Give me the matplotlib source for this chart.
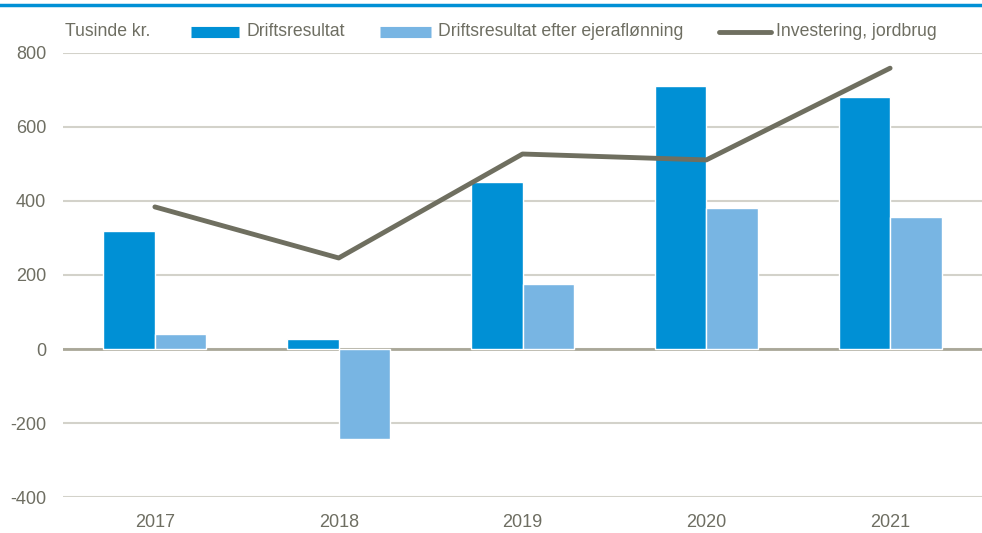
import numpy as np
import matplotlib
matplotlib.use("Agg")
import matplotlib.pyplot as plt
from matplotlib.lines import Line2D

years = ["2017", "2018", "2019", "2020", "2021"]
driftsresultat = [320, 27, 451, 711, 681]
efter_ejerafl = [40, -243, 176, 381, 357]
investering = [384, 246, 527, 511, 759]

DARK = "#0090d5"
LIGHT = "#78b5e3"
LINE = "#6f6f60"
TXT = "#6e6e62"
GRID = "#d3d2ca"

plt.rcParams["font.family"] = ["Liberation Sans", "DejaVu Sans"]
plt.rcParams["axes.unicode_minus"] = False

W, H = 982, 533
fig = plt.figure(figsize=(W / 100, H / 100), dpi=100)
ax = fig.add_axes([63 / W, 1 - 497 / H, (W - 63) / W, (497 - 53) / H])

x = np.arange(len(years))
w = 0.28
ax.bar(x - w / 2, driftsresultat, w, color=DARK, edgecolor="white", linewidth=1, zorder=2)
ax.bar(x + w / 2, efter_ejerafl, w, color=LIGHT, edgecolor="white", linewidth=1, zorder=2)
ax.plot(x, investering, color=LINE, linewidth=3.5, solid_capstyle="round", zorder=3)

ax.set_xlim(-0.5, 4.5)
ax.set_ylim(-400, 800)
ax.set_yticks(range(-400, 801, 200))
ax.yaxis.grid(True, color=GRID, linewidth=1.5, zorder=0)
ax.axhline(0, color="#a9a798", linewidth=2, zorder=1)
ax.set_axisbelow(True)
for s in ax.spines.values():
    s.set_visible(False)
ax.tick_params(length=0, labelsize=13, colors=TXT)
ax.tick_params(axis="y", pad=12)
ax.tick_params(axis="x", pad=12)
ax.set_xticks(x)
ax.set_xticklabels(years)

# top blue rule
fig.add_artist(Line2D([0, 1], [1 - 5 / H, 1 - 5 / H], color="#0090d5", linewidth=2.5))

# legend row, drawn by hand to match spacing
ly = 1 - 32 / H
fig.text(65 / W, ly, "Tusinde kr.", fontsize=12.7, color=TXT, va="center")
legend_items = [
    (191, 239, 247, "Driftsresultat", DARK, 8, "butt"),
    (380, 431, 438, "Driftsresultat efter ejeraflønning", LIGHT, 8, "butt"),
    (719, 771, 776, "Investering, jordbrug", LINE, 3.5, "round"),
]
for x0, x1, tx, lab, col, lw, cap in legend_items:
    fig.add_artist(Line2D([x0 / W, x1 / W], [ly, ly], color=col, linewidth=lw,
                          solid_capstyle=cap))
    fig.text(tx / W, ly, lab, fontsize=12.7, color=TXT, va="center")

fig.savefig("out.png", dpi=100)
